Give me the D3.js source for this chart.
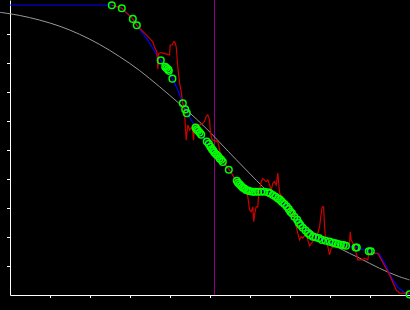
<!DOCTYPE html>
<html lang="en">
<head>
    <meta charset="UTF-8">
    <title>Fit vs data</title>
    <script src="https://d3js.org/d3.v7.min.js"></script>
    <style>
        html, body { margin: 0; padding: 0; background: #000; }
        svg { display: block; background: #000; }
        .axis path, .axis line { stroke: #fff; }
    </style>
</head>
<body>
    <svg width="410" height="310"></svg>
    <script>
        const width = 410;
        const height = 310;

        // Vertical marker position
        const markerX = 5.1;

        // Reference curve (gray)
        const refCurve = [
            [-0.26, 9.75], [0.24, 9.64], [0.74, 9.48], [1.24, 9.27], [1.74, 8.99],
            [2.24, 8.64], [2.74, 8.22], [3.24, 7.74], [3.74, 7.18], [4.24, 6.59],
            [4.82, 5.86], [5.66, 4.66], [6.32, 3.73], [6.74, 3.16], [7.16, 2.64],
            [7.74, 2.01], [8.24, 1.61], [8.74, 1.27], [9.24, 0.92], [9.74, 0.63],
            [9.99, 0.52]
        ];

        // Raw measurement (red)
        const rawData = [
            [2.545, 9.99], [2.795, 9.89], [3.07, 9.52], [3.17, 9.30], [3.24, 9.20],
            [3.405, 8.97], [3.57, 8.73], [3.61, 8.56], [3.67, 8.39], [3.695, 7.79],
            [3.72, 8.33], [3.78, 8.36], [3.99, 8.28], [4.005, 8.62], [4.055, 8.62],
            [4.09, 8.73], [4.12, 8.73], [4.155, 8.56], [4.195, 7.87], [4.24, 7.30],
            [4.28, 7.01], [4.32, 6.61], [4.36, 6.38], [4.405, 5.34], [4.445, 5.86],
            [4.49, 5.69], [4.555, 5.80], [4.59, 5.34], [4.61, 5.90], [4.74, 5.86],
            [4.82, 5.92], [4.86, 5.98], [4.905, 6.15], [4.945, 6.21], [4.99, 6.03],
            [5.005, 5.69], [5.04, 5.40], [5.07, 5.34], [5.195, 5.29], [5.29, 4.66],
            [5.49, 4.31], [5.69, 3.86], [5.84, 3.69], [5.905, 3.56], [5.945, 3.39],
            [5.99, 2.93], [6.03, 2.87], [6.07, 3.04], [6.095, 2.53], [6.12, 2.82],
            [6.155, 3.04], [6.195, 3.04], [6.22, 3.51], [6.28, 3.91], [6.32, 4.02],
            [6.405, 3.91], [6.445, 3.97], [6.49, 3.79], [6.53, 3.62], [6.57, 3.85],
            [6.61, 3.91], [6.655, 3.79], [6.695, 4.20], [6.74, 3.51], [6.805, 3.39],
            [6.94, 3.10], [7.07, 2.82], [7.11, 2.59], [7.155, 2.36], [7.195, 2.13],
            [7.24, 1.90], [7.28, 2.01], [7.32, 1.96], [7.405, 2.13], [7.445, 1.90],
            [7.49, 1.69], [7.53, 1.78], [7.61, 1.90], [7.695, 2.13], [7.74, 2.36],
            [7.78, 2.82], [7.805, 3.04], [7.84, 3.04], [7.86, 2.47], [7.89, 1.90],
            [7.945, 1.67], [7.99, 1.38], [8.03, 1.61], [8.11, 1.67], [8.24, 1.66],
            [8.405, 1.67], [8.49, 1.78], [8.505, 2.18], [8.53, 1.90], [8.61, 1.67],
            [8.655, 1.44], [8.695, 1.21], [8.74, 1.21], [8.82, 1.21], [8.86, 1.27],
            [8.945, 1.21], [8.97, 1.44], [9.195, 1.44], [9.49, 0.69], [9.655, 0.17],
            [9.74, 0.06], [9.99, 0.06]
        ];

        // Smoothed fit (blue)
        const fitLine = [
            [0, 10], [2.545, 10], [2.795, 9.89], [3.07, 9.52], [3.17, 9.30],
            [3.32, 9.02], [3.445, 8.79], [3.57, 8.51], [3.695, 8.22], [3.77, 8.09],
            [3.89, 7.86], [3.99, 7.72], [4.06, 7.46], [4.195, 7.07], [4.32, 6.61],
            [4.405, 6.38], [4.44, 6.24], [4.655, 5.75], [4.78, 5.53], [4.92, 5.29],
            [5.11, 4.93], [5.32, 4.60], [5.47, 4.32], [5.67, 3.94], [5.905, 3.64],
            [6.155, 3.58], [6.405, 3.56], [6.57, 3.48], [6.82, 3.22], [7.07, 2.82],
            [7.24, 2.49], [7.405, 2.24], [7.61, 2.01], [7.86, 1.87], [8.07, 1.78],
            [8.405, 1.70], [8.64, 1.64], [8.99, 1.51], [9.24, 1.40], [9.39, 1.03],
            [9.54, 0.59], [9.69, 0.28], [9.84, 0.10], [9.99, 0.02]
        ];

        // Sample points (green circles)
        const samples = [
            [2.545, 9.99], [2.795, 9.89], [3.07, 9.52], [3.17, 9.30], [3.77, 8.09],
            [3.88, 7.87], [3.91, 7.83], [3.95, 7.78], [3.97, 7.73], [4.06, 7.46],
            [4.32, 6.61], [4.38, 6.40], [4.42, 6.27], [4.64, 5.77], [4.67, 5.71],
            [4.70, 5.66], [4.74, 5.60], [4.78, 5.53], [4.92, 5.29], [4.97, 5.21],
            [5.01, 5.11], [5.05, 5.03], [5.08, 4.98], [5.11, 4.91], [5.15, 4.85],
            [5.20, 4.79], [5.24, 4.71], [5.28, 4.66], [5.32, 4.59], [5.47, 4.32],
            [5.67, 3.94], [5.70, 3.87], [5.74, 3.82], [5.78, 3.76], [5.82, 3.70],
            [5.86, 3.67], [5.90, 3.62], [5.95, 3.60], [6.00, 3.58], [6.07, 3.56],
            [6.13, 3.56], [6.20, 3.56], [6.28, 3.56], [6.36, 3.56], [6.45, 3.54],
            [6.50, 3.51], [6.57, 3.45], [6.64, 3.39], [6.70, 3.33], [6.75, 3.28],
            [6.80, 3.21], [6.86, 3.14], [6.92, 3.05], [6.97, 2.96], [7.01, 2.87],
            [7.05, 2.82], [7.11, 2.70], [7.18, 2.59], [7.22, 2.49], [7.26, 2.41],
            [7.32, 2.32], [7.39, 2.22], [7.45, 2.13], [7.50, 2.07], [7.57, 2.01],
            [7.64, 1.99], [7.72, 1.96], [7.80, 1.90], [7.89, 1.87], [7.99, 1.84],
            [8.07, 1.80], [8.14, 1.78], [8.20, 1.76], [8.27, 1.73], [8.34, 1.72],
            [8.40, 1.70], [8.64, 1.64], [8.67, 1.64], [8.97, 1.51], [9.02, 1.51],
            [9.99, 0.02]
        ];

        const xTicks = [1, 2, 3, 4, 5, 6, 7, 8, 9];
        const yTicks = [1, 2, 3, 4, 5, 6, 7, 8, 9];

        const svg = d3.select("svg");

        const x = d3.scaleLinear().domain([0, 10]).range([10, 410]);
        const y = d3.scaleLinear().domain([0, 10]).range([295, 5]);

        // y axis line runs to the very top of the picture
        const yAxisScale = y.copy().domain([0, y.invert(0)]).range([295, 0]);

        svg.append("g")
            .attr("class", "axis")
            .attr("transform", "translate(0,295)")
            .call(d3.axisBottom(x).tickValues(xTicks).tickSize(3).tickSizeOuter(0).tickFormat(""));

        svg.append("g")
            .attr("class", "axis")
            .attr("transform", "translate(10,0)")
            .call(d3.axisLeft(yAxisScale).tickValues(yTicks).tickSize(3).tickSizeOuter(0).tickFormat(""));

        const line = d3.line().x(d => x(d[0])).y(d => y(d[1]));

        // vertical marker (half-pixel offset so it stays crisp)
        svg.append("line")
            .attr("x1", x(markerX) + 0.5).attr("x2", x(markerX) + 0.5)
            .attr("y1", 0).attr("y2", 295)
            .attr("stroke", "#8c008c")
            .attr("stroke-width", 1);

        svg.append("path")
            .datum(refCurve)
            .attr("fill", "none")
            .attr("stroke", "#999")
            .attr("stroke-width", 1)
            .attr("d", line.curve(d3.curveCatmullRom));

        line.curve(d3.curveLinear);

        svg.append("path")
            .datum(fitLine)
            .attr("fill", "none")
            .attr("stroke", "#0000ff")
            .attr("stroke-width", 1.2)
            .attr("d", line);

        svg.append("path")
            .datum(rawData)
            .attr("fill", "none")
            .attr("stroke", "#d00000")
            .attr("stroke-width", 1.2)
            .attr("d", line);

        svg.selectAll(".sample")
            .data(samples)
            .enter().append("circle")
            .attr("class", "sample")
            .attr("cx", d => x(d[0]))
            .attr("cy", d => y(d[1]))
            .attr("r", 3.3)
            .attr("fill", "none")
            .attr("stroke", "#00ff00")
            .attr("stroke-width", 1.5);
    </script>
</body>
</html>
